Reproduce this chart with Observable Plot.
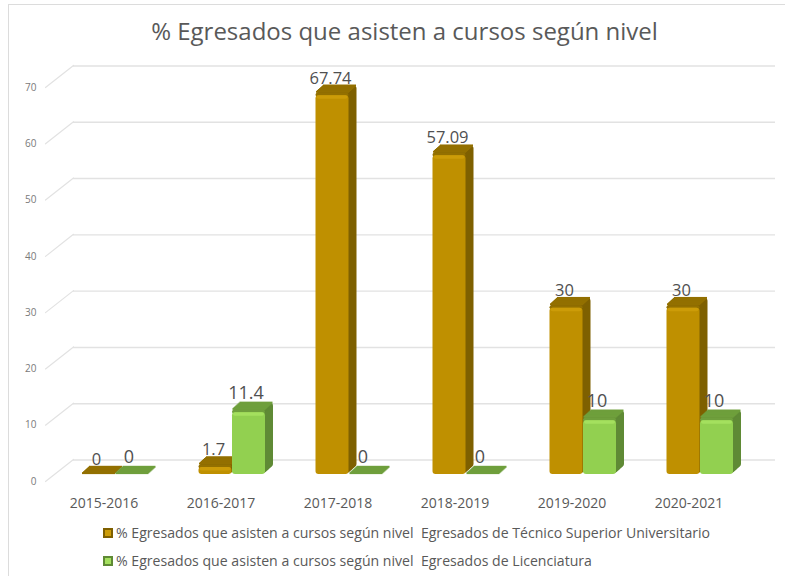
<!DOCTYPE html>
<html>
<head>
<meta charset="utf-8">
<script src="https://cdn.jsdelivr.net/npm/d3@7"></script>
<script src="https://cdn.jsdelivr.net/npm/@observablehq/plot@0.6"></script>
<style>
html,body{margin:0;padding:0;background:#fff;overflow:hidden}
#page{position:relative;width:785px;height:576px;font-family:"Open Sans",sans-serif;color:#595959}
#frame{position:absolute;left:8px;top:4px;width:777px;height:590px;border-left:1px solid #dcdcdc;border-top:1px solid #dcdcdc;box-sizing:border-box;pointer-events:none}
#title{position:absolute;left:0;top:0;width:100%;height:60px;line-height:62px;text-align:center;font-size:24px;padding-left:24px;box-sizing:border-box}
#chart{position:absolute;left:0;top:60px}
#legend{position:absolute;left:103px;top:519px;font-size:14.1px}
.row{height:28px;line-height:28px;white-space:nowrap;display:flex;align-items:center}
.key{width:10px;height:10px;box-sizing:border-box;border:2.5px solid;margin-right:3px;flex:none}
</style>
</head>
<body>
<div id="page">
  <div id="frame"></div>
  <div id="title"></div>
  <div id="chart"></div>
  <div id="legend"></div>
</div>
<script>
const titleText = "% Egresados que asisten a cursos según nivel";
const years = ["2015-2016","2016-2017","2017-2018","2018-2019","2019-2020","2020-2021"];
const tsuValues = [0, 1.7, 67.74, 57.09, 30, 30];
const licValues = [0, 11.4, 0, 0, 10, 10];
const yTicks = [0,10,20,30,40,50,60,70];
const seriesNames = [
  "% Egresados que asisten a cursos según nivel  Egresados de Técnico Superior Universitario",
  "% Egresados que asisten a cursos según nivel  Egresados de Licenciatura"
];
const tsuColors = {front:"#bf9000", light:"#cc9c08", top:"#937000", side:"#7f6000"};
const licColors = {front:"#92d050", light:"#a4e05e", top:"#6f9f3c", side:"#5f8a35"};

document.getElementById("title").textContent = titleText;

const tsu = years.map((year,i)=>({year, value:tsuValues[i]}));
const lic = years.map((year,i)=>({year, value:licValues[i]}));
const inset = {insetLeft:42, insetRight:42};
const DEPTH = 8;

function barMarks(data, c, offset){
  const marks = [];
  const solid = data.filter(d=>d.value>0);
  for(let i=DEPTH;i>=1;i--){
    marks.push(Plot.barY(solid,{x:"year",y:"value",...inset,fill:c.side,rx:3,dx:offset+i,dy:-i*0.9}));
  }
  for(let i=DEPTH;i>=1;i--){
    marks.push(Plot.rectY(data,{x:"year",y1:"value",y2:"value",...inset,insetTop:-1,insetBottom:-1,fill:c.top,dx:offset+i-0.5,dy:-i*0.9}));
  }
  marks.push(Plot.rectY(solid,{x:"year",y1:"value",y2:"value",...inset,insetTop:0,insetBottom:-4,fill:c.top,rx:2,dx:offset}));
  marks.push(Plot.barY(solid,{x:"year",y:"value",...inset,insetTop:2.5,fill:c.front,rx:3,dx:offset}));
  marks.push(Plot.rectY(solid,{x:"year",y1:"value",y2:"value",...inset,insetLeft:43,insetRight:43,insetTop:2.5,insetBottom:-6,fill:c.light,rx:2,dx:offset}));
  return marks;
}

function labelMark(data, offset, size, lift){
  return Plot.text(data,{x:"year",y:"value",text:d=>String(d.value),dx:offset,dy:lift,fontSize:size,fill:"#505050",lineAnchor:"middle"});
}

const chart = Plot.plot({
  width:785, height:459,
  marginLeft:45, marginRight:38, marginTop:20, marginBottom:45,
  style:{background:"transparent",fontFamily:"'Open Sans',sans-serif",overflow:"visible"},
  x:{domain:years, padding:0, label:null},
  y:{domain:[0,70], label:null},
  marks:[
    Plot.ruleY(yTicks,{stroke:"#e2e2e2",strokeWidth:1.4,dx:28,dy:-14.5}),
    Plot.vector(yTicks,{
      y:d=>d, frameAnchor:"left", length:35.6, rotate:51.8, anchor:"start",
      stroke:"#e2e2e2", strokeWidth:1.2, dy:7,
      shape:{draw(ctx,l){ctx.moveTo(0,0);ctx.lineTo(0,-l);}}
    }),
    Plot.axisY({ticks:yTicks,tickSize:0,tickPadding:9,fontSize:10,fill:"#7a7a7a",stroke:null,dy:7,label:null}),
    Plot.axisX({tickSize:0,tickPadding:24,fontSize:14,fill:"#595959",stroke:null,label:null}),
    ...barMarks(tsu,tsuColors,-5.5),
    ...barMarks(lic,licColors,28),
    labelMark(tsu,-7.5,16.5,-15),
    labelMark(lic,25,18,-17)
  ]
});
document.getElementById("chart").appendChild(chart);

const legend = document.getElementById("legend");
[[seriesNames[0],tsuColors],[seriesNames[1],licColors]].forEach(([name,c])=>{
  const row = document.createElement("div"); row.className="row";
  const key = document.createElement("span"); key.className="key";
  key.style.background = c.light; key.style.borderColor = c.side;
  const t = document.createElement("span"); t.textContent = name; t.style.whiteSpace="pre";
  row.append(key,t); legend.appendChild(row);
});
</script>
</body>
</html>
